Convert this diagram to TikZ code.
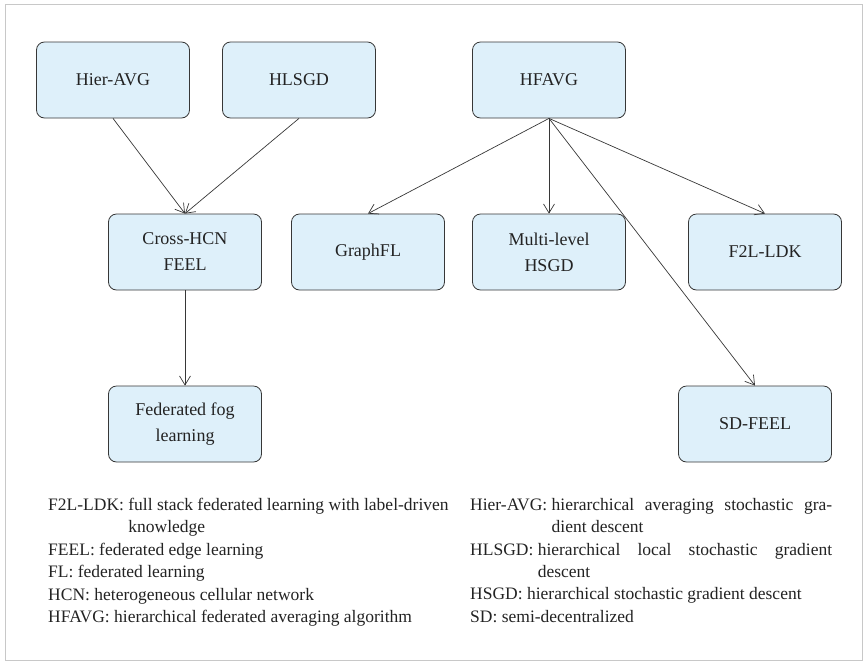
\documentclass[tikz,border=0pt]{standalone}
\usepackage{fontspec}
\setmainfont{Liberation Serif}
\usetikzlibrary{arrows.meta}

\definecolor{boxfill}{RGB}{222,240,250}
\definecolor{boxline}{RGB}{55,55,55}
\definecolor{textgray}{RGB}{35,35,35}
\definecolor{framegray}{RGB}{200,200,200}

% abbreviation with hanging indent
\newcommand{\glossentry}[2]{\noindent\setbox0=\hbox{#1:\ }\hangindent=\wd0 \hangafter=1 \box0 #2\par}

\begin{document}
\begin{tikzpicture}[x=1pt, y=-1pt, >={Straight Barb[length=9pt,width=11pt]},
    font=\fontsize{18}{26}\selectfont]
    \tikzstyle{box}=[draw=boxline, fill=boxfill, line width=0.8pt, rounded corners=8pt,
      align=center, text=textgray, minimum width=153pt, minimum height=76pt]
    \tikzstyle{link}=[->, draw=boxline, line width=0.7pt]
    \tikzstyle{gloss}=[anchor=north west, inner sep=0pt, align=justify, text=textgray,
      font=\fontsize{17.5}{22.4}\selectfont]
    \useasboundingbox (0,0) rectangle (865,662);
    \draw[framegray, line width=1pt] (5,4) rectangle (862,660);

    \node[box] (hieravg) at (113,80) {Hier-AVG};
    \node[box, right of=hieravg, node distance=186pt] (hlsgd) {HLSGD};
    \node[box, right of=hlsgd, node distance=250pt] (hfavg) {HFAVG};

    \node[box, below of=hfavg, node distance=172pt] (multilevel) {Multi-level\\HSGD};
    \node[box, left of=multilevel, node distance=181pt] (graphfl) {GraphFL};
    \node[box, right of=multilevel, node distance=216pt] (f2lldk) {F2L-LDK};
    \node[box, left of=graphfl, node distance=183pt] (crosshcn) {Cross-HCN\\FEEL};

    \node[box, below of=crosshcn, node distance=172pt] (fedfog) {Federated fog\\learning};
    \node[box] (sdfeel) at (755,424) {SD-FEEL};

    \draw[link] (hieravg.south) -- (crosshcn.north);
    \draw[link] (hlsgd.south) -- (crosshcn.north);
    \draw[link] (crosshcn) -- (fedfog);
    \draw[link] (hfavg.south) -- (graphfl.north);
    \draw[link] (hfavg.south) -- (multilevel.north);
    \draw[link] (hfavg.south) -- (f2lldk.north);
    \draw[link] (hfavg.south) -- (sdfeel.north);

    % abbreviations
    \node[gloss, text width=412pt] (glossleft) at (48,498) {%
      \glossentry{F2L-LDK}{full stack federated learning with label-driven\newline knowledge}%
      \glossentry{FEEL}{federated edge learning}%
      \glossentry{FL}{federated learning}%
      \glossentry{HCN}{heterogeneous cellular network}%
      \glossentry{HFAVG}{hierarchical federated averaging algorithm}};
    \node[gloss, text width=362pt] (glossright) at (470,498) {%
      \glossentry{Hier-AVG}{hierarchical averaging stochastic gra-\linebreak dient descent}%
      \glossentry{HLSGD}{hierarchical local stochastic gradient\linebreak descent}%
      \glossentry{HSGD}{hierarchical stochastic gradient descent}%
      \glossentry{SD}{semi-decentralized}};
  \end{tikzpicture}
\end{document}
